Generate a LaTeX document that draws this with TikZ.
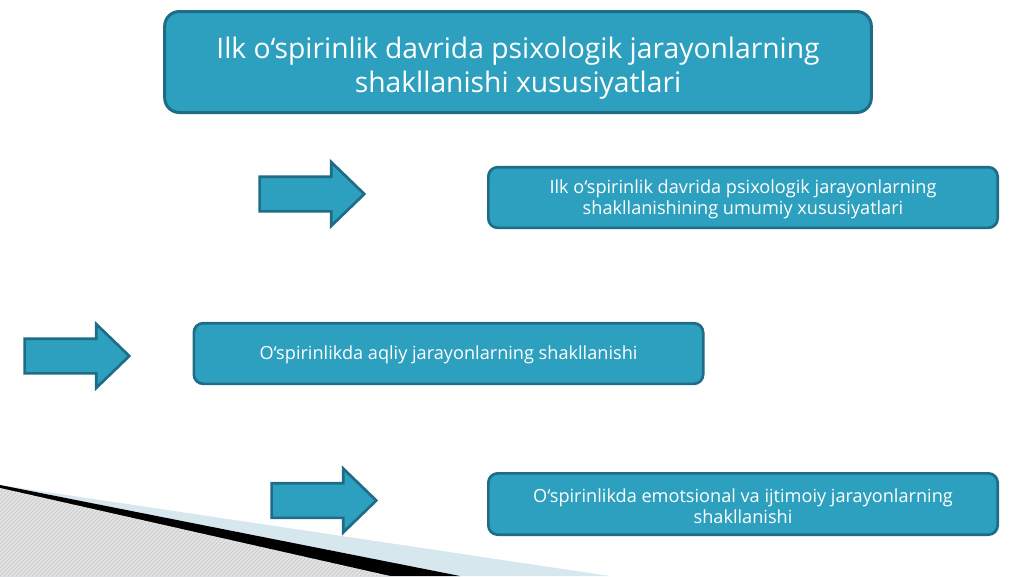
\documentclass[tikz,border=0pt]{standalone}
\usepackage{fontspec}
\setmainfont{Open Sans}
\usetikzlibrary{shapes.arrows}
\usetikzlibrary{patterns}
\definecolor{boxfill}{RGB}{44,160,190}
\definecolor{boxline}{RGB}{30,108,134}
\definecolor{paleblue}{RGB}{214,232,238}

\begin{document}
\begin{tikzpicture}[x=0.75pt,y=-0.75pt,
  topbox/.style={draw=boxline,fill=boxfill,line width=2.25pt,rounded corners=11pt,
    minimum width=530pt,minimum height=75.75pt,align=center,text=white,
    font=\fontsize{21.2}{25.5}\selectfont},
  subbox/.style={draw=boxline,fill=boxfill,line width=2pt,rounded corners=7pt,
    minimum width=382pt,minimum height=45.5pt,align=center,text=white,
    font=\fontsize{13.6}{15.75}\selectfont},
  bigarrow/.style={single arrow,draw=boxline,fill=boxfill,line width=2pt,
    inner xsep=0pt,inner ysep=12pt,minimum height=78.5pt,
    single arrow head extend=11pt,single arrow tip angle=88}]
 \useasboundingbox (0,0) rectangle (1024,576);

 % corner decoration
 \fill[paleblue] (0,485) -- (610,576) -- (0,576) -- cycle;
 \fill[black] (0,485) -- (460,576) -- (0,576) -- cycle;
 \fill[gray!22] (0,488) -- (390,576) -- (0,576) -- cycle;
 \fill[pattern=north east lines,pattern color=gray!45] (0,488) -- (390,576) -- (0,576) -- cycle;

 \node[topbox] (title) at (518,62) {\rule{0pt}{25pt}Ilk o‘spirinlik davrida psixologik jarayonlarning\\shakllanishi xususiyatlari};

 \node[bigarrow] (arrA) at (303,194) {};
 \node[subbox] (boxA) at (743,197.5) {\rule{0pt}{13pt}Ilk o‘spirinlik davrida psixologik jarayonlarning\\shakllanishining umumiy xususiyatlari};

 \node[bigarrow] (arrB) at (68,356) {};
 \node[subbox] (boxB) at (448.5,353.5) {\rule{0pt}{12.5pt}O‘spirinlikda aqliy jarayonlarning shakllanishi};

 \node[bigarrow] (arrC) at (315,500.5) {};
 \node[subbox,minimum height=46pt] (boxC) at (743,504) {\rule{0pt}{13pt}O‘spirinlikda emotsional va ijtimoiy jarayonlarning\\shakllanishi};
\end{tikzpicture}
\end{document}
